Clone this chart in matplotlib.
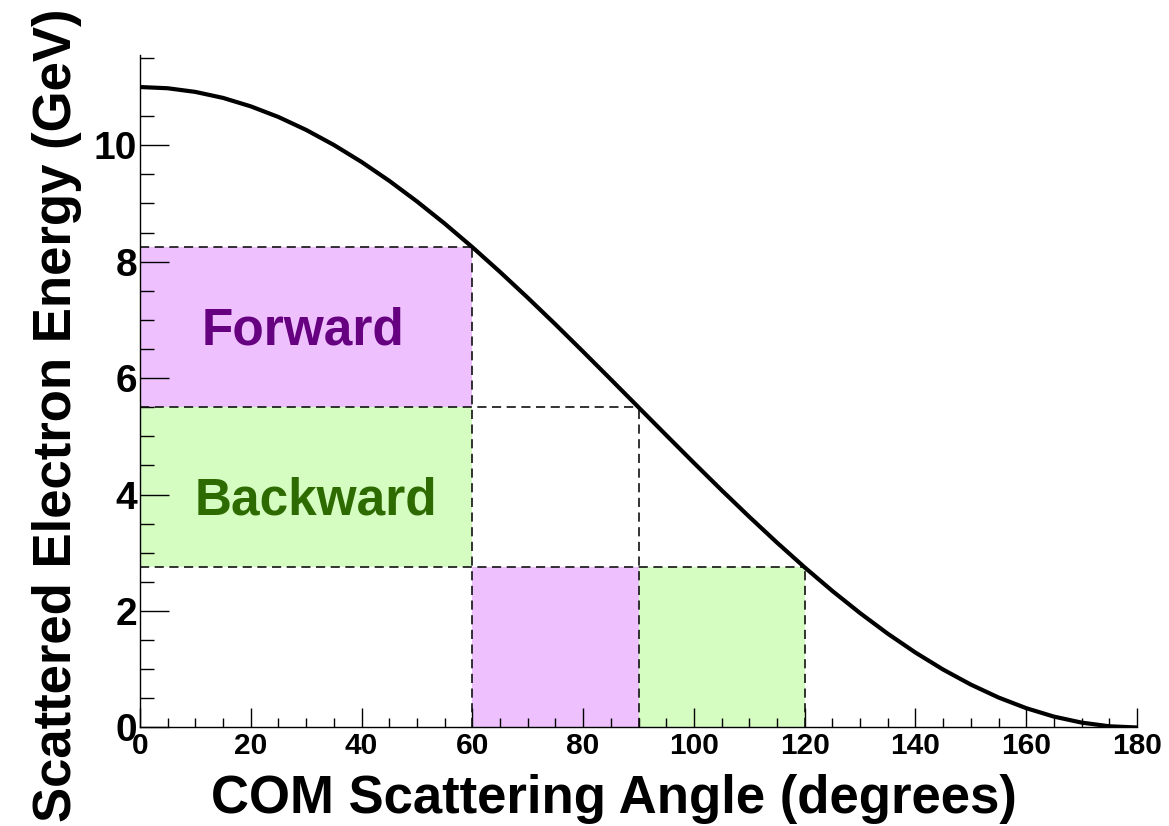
import matplotlib
matplotlib.use("Agg")
import matplotlib.pyplot as plt
from matplotlib.patches import Rectangle
from matplotlib.ticker import MultipleLocator

plt.rcParams["font.family"] = ["Liberation Sans", "DejaVu Sans"]
plt.rcParams["font.weight"] = "bold"

# Scattered electron energy (GeV) vs. centre-of-mass scattering angle (deg)
angle_deg = [0, 5, 10, 15, 20, 25, 30, 35, 40, 45, 50, 55, 60, 65, 70, 75, 80, 85, 90,
             95, 100, 105, 110, 115, 120, 125, 130, 135, 140, 145, 150, 155, 160, 165,
             170, 175, 180]
energy_gev = [11.000, 10.979, 10.916, 10.813, 10.668, 10.485, 10.263, 10.005, 9.713,
              9.389, 9.035, 8.655, 8.250, 7.824, 7.381, 6.924, 6.455, 5.979, 5.500,
              5.021, 4.545, 4.076, 3.619, 3.176, 2.750, 2.345, 1.965, 1.611, 1.287,
              0.995, 0.737, 0.515, 0.332, 0.187, 0.084, 0.021, 0.000]

# Angle cuts and the matching energy cuts
cut_angles = [60, 90, 120]
cut_energies = [8.25, 5.5, 2.75]

# Regions as (angle_lo, angle_hi, energy_lo, energy_hi)
forward_regions = [(0, 60, 5.5, 8.25), (60, 90, 0.0, 2.75)]
backward_regions = [(0, 60, 2.75, 5.5), (90, 120, 0.0, 2.75)]

region_labels = ["Forward", "Backward"]
label_angle = [11.2, 9.8]
label_energy = [6.57, 3.65]

forward_fill = "#EEC0FE"
backward_fill = "#D5FCC1"
forward_text = "#660080"
backward_text = "#2D6B00"

fig = plt.figure(figsize=(11.69, 8.26), dpi=100)
ax = fig.add_axes([0.11976, 0.11925, 0.85287, 0.81416])

for (a0, a1, e0, e1) in forward_regions:
    ax.add_patch(Rectangle((a0, e0), a1 - a0, e1 - e0, facecolor=forward_fill,
                           edgecolor="none", zorder=1))
for (a0, a1, e0, e1) in backward_regions:
    ax.add_patch(Rectangle((a0, e0), a1 - a0, e1 - e0, facecolor=backward_fill,
                           edgecolor="none", zorder=1))

dash = (0, (5.5, 3.3))
for a, e in zip(cut_angles, cut_energies):
    ax.plot([0, a], [e, e], color="#111111", lw=1.2, linestyle=dash, zorder=2)
    ax.plot([a, a], [0, e], color="#111111", lw=1.2, linestyle=dash, zorder=2)

ax.plot(angle_deg, energy_gev, color="black", lw=3.0, zorder=3,
        solid_capstyle="butt")

for txt, x, y, c in zip(region_labels, label_angle, label_energy,
                        [forward_text, backward_text]):
    ax.text(x, y, txt, color=c, fontsize=37, fontweight="bold",
            ha="left", va="baseline", zorder=4)

ax.set_xlim(0, 180)
ax.set_ylim(0, 11.55)

for side in ["top", "right"]:
    ax.spines[side].set_visible(False)
for side in ["left", "bottom"]:
    ax.spines[side].set_linewidth(1.0)
    ax.spines[side].set_zorder(5)

ax.xaxis.set_major_locator(MultipleLocator(20))
ax.xaxis.set_minor_locator(MultipleLocator(5))
ax.yaxis.set_major_locator(MultipleLocator(2))
ax.yaxis.set_minor_locator(MultipleLocator(0.5))

ax.tick_params(axis="x", which="major", direction="in", length=13.7, width=1.0,
               labelsize=21.5, pad=3.6, top=False)
ax.tick_params(axis="x", which="minor", direction="in", length=6.8, width=1.0, top=False)
ax.tick_params(axis="y", which="major", direction="in", length=21, width=1.0,
               labelsize=28, pad=2, right=False)
ax.tick_params(axis="y", which="minor", direction="in", length=10, width=1.0, right=False)

ax.set_xticklabels([f"{int(v)}" for v in ax.get_xticks()])
ax.set_yticklabels([f"{int(v)}" for v in ax.get_yticks()])
for lab in ax.get_xticklabels() + ax.get_yticklabels():
    lab.set_fontweight("bold")

fig.text(613.5 / 1169, 13 / 826, "COM Scattering Angle (degrees)", fontsize=38,
         fontweight="bold", ha="center", va="baseline")
fig.text(82 / 1169, (826 - 415) / 826, "Scattered Electron Energy (GeV)", fontsize=38,
         fontweight="bold", rotation=90, ha="right", va="center")

fig.savefig("out.png", dpi=100)
